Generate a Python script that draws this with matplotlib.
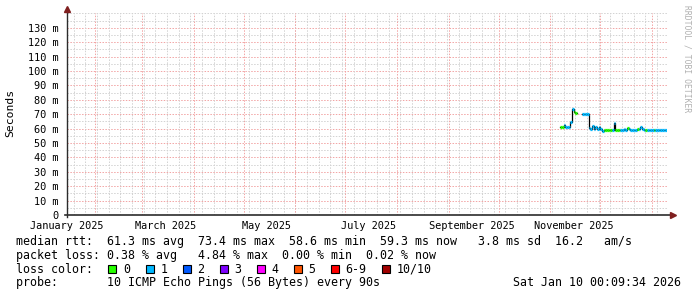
import numpy as np
import pandas as pd
import matplotlib
matplotlib.use('Agg')
import matplotlib.pyplot as plt
from matplotlib.patches import Rectangle

# time window of the graph (last 360 days)
t_start = pd.Timestamp('2025-01-15 00:09:34')
t_end = pd.Timestamp('2026-01-10 00:09:34')

# median rtt per day (ms) and number of lost pings (loss colour index)
day_first = '2025-11-07'
median_ms = [61.0, 61.3, 62.8, 61.0, 61.2, 61.0, 64.5, 73.4, 71.2, 71.0,
             np.nan, np.nan, np.nan, 70.0, 70.0, 70.0, 70.0, 60.5, 59.5, 61.5,
             59.5, 61.0, 59.8, 61.0,
             59.5, 58.2, 58.7, 58.7, 58.8, 58.8, 58.8, 59.0, 64.2, 59.0,
             58.8, 58.8, 59.0, 59.3, 60.0, 59.2, 60.3, 59.5, 59.0, 59.2,
             59.0, 59.0, 59.5, 60.0, 61.3, 59.5, 59.0, 59.0, 59.2, 59.0,
             59.0,
             59.2, 59.0, 59.0, 59.2, 59.0, 59.3, 59.0, 59.2, 59.3]
loss_idx = [0, 0, 1, 1, 1, 1, 1, 1, 0, 0,
            0, 0, 0, 1, 1, 1, 1, 1, 1, 1,
            1, 1, 1, 1,
            1, 1, 0, 0, 0, 0, 0, 1, 1, 0,
            0, 0, 1, 1, 1, 1, 0, 1, 1, 1,
            1, 1, 0, 1, 1, 1, 1, 0, 1, 1,
            1,
            1, 0, 1, 1, 1, 1, 1, 1, 1]

loss_labels = ['0', '1', '2', '3', '4', '5', '6-9', '10/10']
loss_colors = ['#26ff00', '#00b8ff', '#0059ff', '#7e00ff', '#ff00ff',
               '#ff5500', '#ff0000', '#a10000']

y_ticks = [0, 10, 20, 30, 40, 50, 60, 70, 80, 90, 100, 110, 120, 130]
x_labels = ['January 2025', 'March 2025', 'May 2025', 'July 2025',
            'September 2025', 'November 2025']
x_label_dates = ['2025-01-15', '2025-03-15', '2025-05-15', '2025-07-15',
                 '2025-09-15', '2025-11-15']

legend_lines = [
    'median rtt:  61.3 ms avg  73.4 ms max  58.6 ms min  59.3 ms now   3.8 ms sd  16.2   am/s',
    'packet loss: 0.38 % avg   4.84 % max  0.00 % min  0.02 % now',
]
probe_line = 'probe:       10 ICMP Echo Pings (56 Bytes) every 90s'
stamp = 'Sat Jan 10 00:09:34 2026'

W, H = 697, 297
mono = 'DejaVu Sans Mono'
fig = plt.figure(figsize=(W / 100, H / 100), dpi=100)
fig.patch.set_facecolor('white')

def fx(px):
    return px / W

def fy(py):
    return 1 - py / H

ax = fig.add_axes([fx(67), fy(215), fx(667) - fx(67), fy(13.3) - fy(215)])
ax.set_facecolor('white')
ax.set_xlim(t_start, t_end)
ax.set_ylim(0, 140)

# grid
mgrid = '#f2a4a4'
grid = '#d2d2d2'
dots = (0, (1.5, 1.5))
for v in range(5, 141, 5):
    c = mgrid if (v % 10 == 0 and v <= 130) else grid
    ax.axhline(v, color=c, lw=0.7, ls=dots, zorder=1)
weeks = pd.date_range(t_start, t_end, freq='W-SUN')
months = pd.date_range(t_start, t_end, freq='MS')
for d in weeks:
    ax.axvline(d, color=grid, lw=0.7, ls=dots, zorder=1)
for d in months:
    ax.axvline(d, color=mgrid, lw=0.7, ls=dots, zorder=1)

# data
days = pd.date_range(day_first, periods=len(median_ms), freq='D')
vals = np.array(median_ms, dtype=float)
step_x = list(days) + [days[-1] + pd.Timedelta(days=1)]
step_y = list(vals) + [vals[-1]]
ax.step(step_x, step_y, where='post', color='black', lw=0.9, zorder=3)
for d, v, li in zip(days, vals, loss_idx):
    if np.isnan(v):
        continue
    ax.hlines(v, d, d + pd.Timedelta(days=1), colors=loss_colors[li],
              lw=2.3, zorder=4)

# axes, ticks
for s in ax.spines.values():
    s.set_visible(False)
ax.set_yticks(y_ticks)
ax.set_yticklabels(['0'] + ['%d m' % v for v in y_ticks[1:]],
                   fontfamily=mono, fontsize=7.4)
ax.set_xticks([pd.Timestamp(d) for d in x_label_dates])
ax.set_xticklabels(x_labels, fontfamily=mono, fontsize=7.4)
ax.tick_params(axis='both', length=0)
ax.tick_params(axis='y', pad=6)
ax.tick_params(axis='x', pad=4.2)
fig.text(fx(10.5), fy(113), 'Seconds', rotation=90, fontfamily=mono,
         fontsize=8.2, ha='center', va='center')

axis_c = '#2c2c2c'
arrow_c = '#7f1f1f'
ax.plot([0, 0], [-0.01, 1.015], transform=ax.transAxes, color=axis_c,
        lw=1, clip_on=False, zorder=5)
ax.plot([-0.004, 1.005], [0, 0], transform=ax.transAxes, color=axis_c,
        lw=1.2, clip_on=False, zorder=5)
ax.plot([0], [1.02], transform=ax.transAxes, marker='^', color=arrow_c,
        ms=4, clip_on=False, zorder=6)
ax.plot([1.0095], [0], transform=ax.transAxes, marker='>', color=arrow_c,
        ms=4, clip_on=False, zorder=6)

# watermark
fig.text(fx(687), fy(5), 'RRDTOOL / TOBI OETIKER', rotation=-90,
         fontfamily=mono, fontsize=5.8, color='#b0b0b0', ha='center', va='top')

# legend text
fig.text(fx(16), fy(241.7), legend_lines[0], fontfamily=mono, fontsize=8.4,
         va='center', ha='left')
fig.text(fx(16), fy(255.2), legend_lines[1], fontfamily=mono, fontsize=8.4,
         va='center', ha='left')
fig.text(fx(16), fy(269.2), 'loss color:', fontfamily=mono, fontsize=8.4,
         va='center', ha='left')
box_x = [108, 145.5, 182.5, 219.5, 256.5, 293.5, 330.5, 381.7]
for x0, lab, c in zip(box_x, loss_labels, loss_colors):
    fig.patches.append(Rectangle((fx(x0), fy(273)), fx(8), 8 / H, facecolor=c,
                                 edgecolor='black', lw=0.8,
                                 transform=fig.transFigure, figure=fig))
    fig.text(fx(x0 + 15), fy(269.2), lab, fontfamily=mono, fontsize=8.4,
             va='center', ha='left')
fig.text(fx(16), fy(282.7), probe_line, fontfamily=mono, fontsize=8.4,
         va='center', ha='left')
fig.text(fx(681), fy(282.7), stamp, fontfamily=mono, fontsize=8.4,
         va='center', ha='right')

fig.savefig('out.png', dpi=100, facecolor='white')
